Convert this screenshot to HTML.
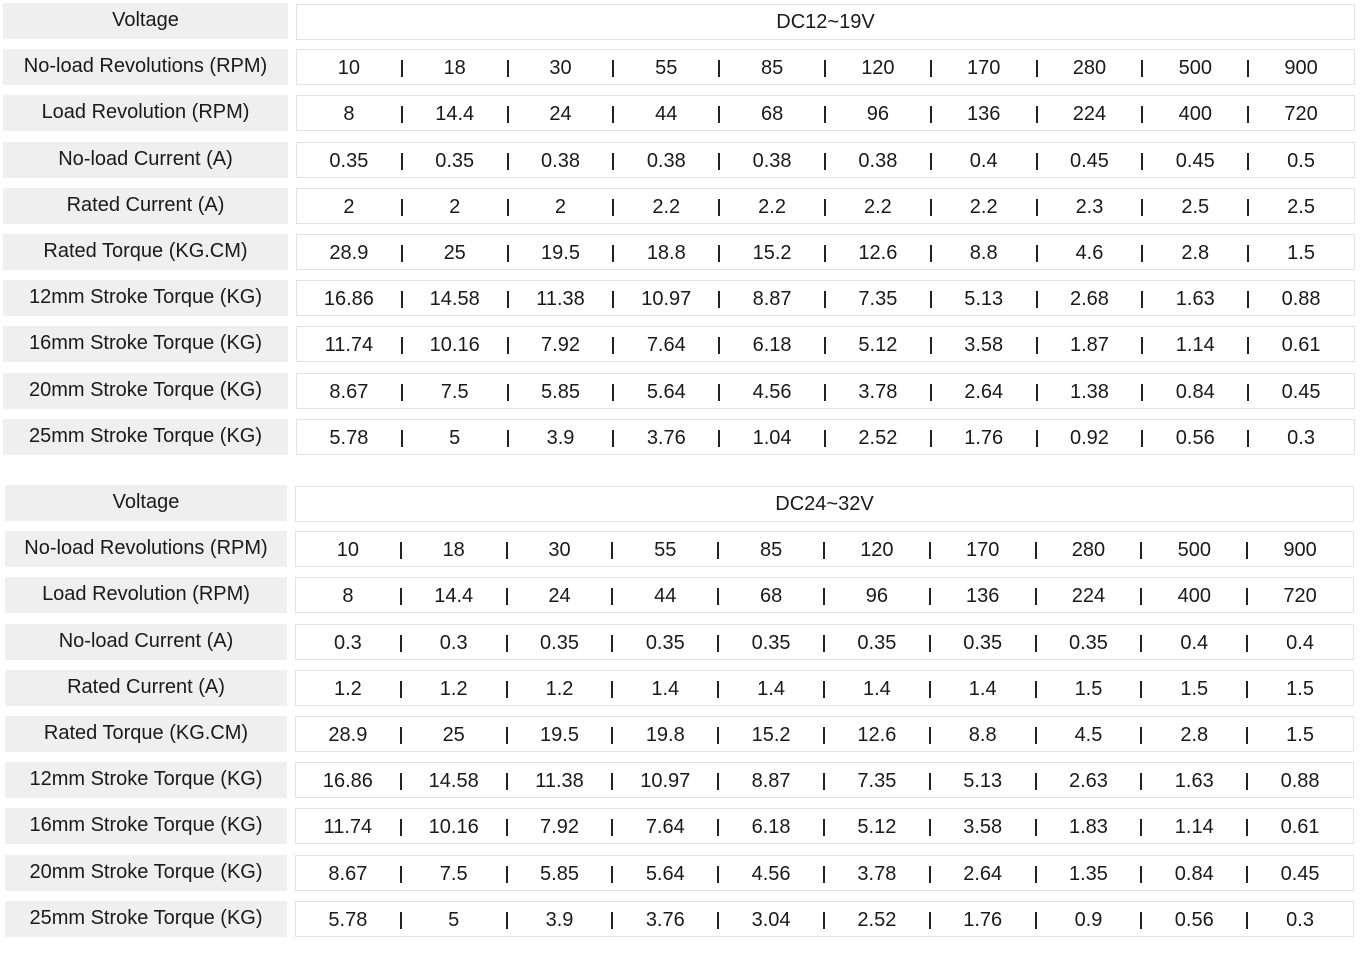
<!DOCTYPE html>
<html><head><meta charset="utf-8"><style>
body{margin:0;width:1360px;height:960px;background:#fff;position:relative;overflow:hidden;font-family:"Liberation Sans",Arial,sans-serif;color:#1a1a1a;font-size:20px}
.r{position:absolute;height:36px}
.l{position:absolute;left:3px;width:285px;height:36px;background:#efefef;text-align:center;line-height:34px}
.v{position:absolute;left:296px;width:1057px;height:34px;border:1.5px solid #e2e2e2;background:#fff;display:flex;line-height:37px}
.v.h{justify-content:center;line-height:34px}
.v span{width:105.8px;text-align:center;position:relative;flex:none}
.v span:first-child{margin-left:-1px}
.v span+span::before{content:"";position:absolute;left:-1px;top:10px;width:2px;height:17px;background:#222}
.b .l{left:5px;width:282px}
.b .v{left:295px}
</style></head><body>
<div class="r" style="top:3px"><div class="l">Voltage</div><div class="v h" style="top:1px">DC12~19V</div></div>
<div class="r" style="top:49.2px"><div class="l">No-load Revolutions (RPM)</div><div class="v"><span>10</span><span>18</span><span>30</span><span>55</span><span>85</span><span>120</span><span>170</span><span>280</span><span>500</span><span>900</span></div></div>
<div class="r" style="top:95.4px"><div class="l">Load Revolution (RPM)</div><div class="v"><span>8</span><span>14.4</span><span>24</span><span>44</span><span>68</span><span>96</span><span>136</span><span>224</span><span>400</span><span>720</span></div></div>
<div class="r" style="top:141.6px"><div class="l">No-load Current (A)</div><div class="v"><span>0.35</span><span>0.35</span><span>0.38</span><span>0.38</span><span>0.38</span><span>0.38</span><span>0.4</span><span>0.45</span><span>0.45</span><span>0.5</span></div></div>
<div class="r" style="top:187.8px"><div class="l">Rated Current (A)</div><div class="v"><span>2</span><span>2</span><span>2</span><span>2.2</span><span>2.2</span><span>2.2</span><span>2.2</span><span>2.3</span><span>2.5</span><span>2.5</span></div></div>
<div class="r" style="top:234px"><div class="l">Rated Torque (KG.CM)</div><div class="v"><span>28.9</span><span>25</span><span>19.5</span><span>18.8</span><span>15.2</span><span>12.6</span><span>8.8</span><span>4.6</span><span>2.8</span><span>1.5</span></div></div>
<div class="r" style="top:280.2px"><div class="l">12mm Stroke Torque (KG)</div><div class="v"><span>16.86</span><span>14.58</span><span>11.38</span><span>10.97</span><span>8.87</span><span>7.35</span><span>5.13</span><span>2.68</span><span>1.63</span><span>0.88</span></div></div>
<div class="r" style="top:326.4px"><div class="l">16mm Stroke Torque (KG)</div><div class="v"><span>11.74</span><span>10.16</span><span>7.92</span><span>7.64</span><span>6.18</span><span>5.12</span><span>3.58</span><span>1.87</span><span>1.14</span><span>0.61</span></div></div>
<div class="r" style="top:372.6px"><div class="l">20mm Stroke Torque (KG)</div><div class="v"><span>8.67</span><span>7.5</span><span>5.85</span><span>5.64</span><span>4.56</span><span>3.78</span><span>2.64</span><span>1.38</span><span>0.84</span><span>0.45</span></div></div>
<div class="r" style="top:418.8px"><div class="l">25mm Stroke Torque (KG)</div><div class="v"><span>5.78</span><span>5</span><span>3.9</span><span>3.76</span><span>1.04</span><span>2.52</span><span>1.76</span><span>0.92</span><span>0.56</span><span>0.3</span></div></div>

<div class="b">
<div class="r" style="top:485px"><div class="l">Voltage</div><div class="v h" style="top:1px">DC24~32V</div></div>
<div class="r" style="top:531.2px"><div class="l">No-load Revolutions (RPM)</div><div class="v"><span>10</span><span>18</span><span>30</span><span>55</span><span>85</span><span>120</span><span>170</span><span>280</span><span>500</span><span>900</span></div></div>
<div class="r" style="top:577.4px"><div class="l">Load Revolution (RPM)</div><div class="v"><span>8</span><span>14.4</span><span>24</span><span>44</span><span>68</span><span>96</span><span>136</span><span>224</span><span>400</span><span>720</span></div></div>
<div class="r" style="top:623.6px"><div class="l">No-load Current (A)</div><div class="v"><span>0.3</span><span>0.3</span><span>0.35</span><span>0.35</span><span>0.35</span><span>0.35</span><span>0.35</span><span>0.35</span><span>0.4</span><span>0.4</span></div></div>
<div class="r" style="top:669.8px"><div class="l">Rated Current (A)</div><div class="v"><span>1.2</span><span>1.2</span><span>1.2</span><span>1.4</span><span>1.4</span><span>1.4</span><span>1.4</span><span>1.5</span><span>1.5</span><span>1.5</span></div></div>
<div class="r" style="top:716px"><div class="l">Rated Torque (KG.CM)</div><div class="v"><span>28.9</span><span>25</span><span>19.5</span><span>19.8</span><span>15.2</span><span>12.6</span><span>8.8</span><span>4.5</span><span>2.8</span><span>1.5</span></div></div>
<div class="r" style="top:762.2px"><div class="l">12mm Stroke Torque (KG)</div><div class="v"><span>16.86</span><span>14.58</span><span>11.38</span><span>10.97</span><span>8.87</span><span>7.35</span><span>5.13</span><span>2.63</span><span>1.63</span><span>0.88</span></div></div>
<div class="r" style="top:808.4px"><div class="l">16mm Stroke Torque (KG)</div><div class="v"><span>11.74</span><span>10.16</span><span>7.92</span><span>7.64</span><span>6.18</span><span>5.12</span><span>3.58</span><span>1.83</span><span>1.14</span><span>0.61</span></div></div>
<div class="r" style="top:854.6px"><div class="l">20mm Stroke Torque (KG)</div><div class="v"><span>8.67</span><span>7.5</span><span>5.85</span><span>5.64</span><span>4.56</span><span>3.78</span><span>2.64</span><span>1.35</span><span>0.84</span><span>0.45</span></div></div>
<div class="r" style="top:900.8px"><div class="l">25mm Stroke Torque (KG)</div><div class="v"><span>5.78</span><span>5</span><span>3.9</span><span>3.76</span><span>3.04</span><span>2.52</span><span>1.76</span><span>0.9</span><span>0.56</span><span>0.3</span></div></div>
</div>
</body></html>
